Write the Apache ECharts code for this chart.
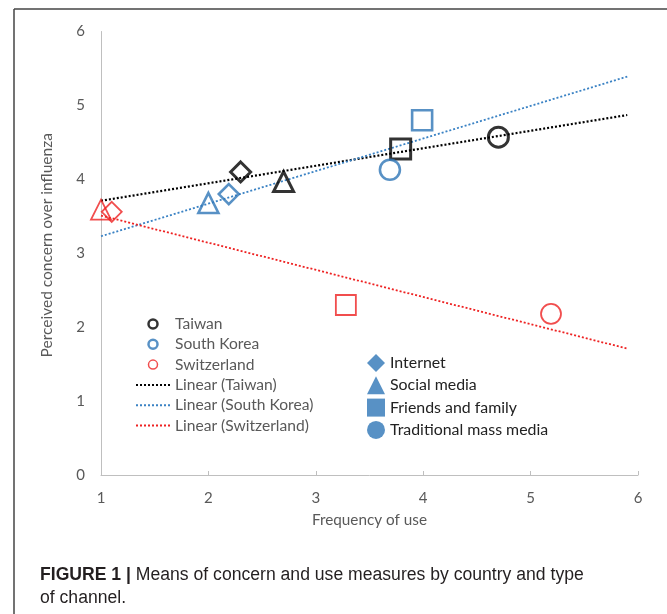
<!DOCTYPE html>
<html>
<head>
<meta charset="utf-8">
<script src="https://cdn.jsdelivr.net/npm/echarts@6/dist/echarts.min.js"></script>
<style>
html,body{margin:0;padding:0;background:#fff;}
#chart{width:667px;height:614px;}
</style>
</head>
<body>
<div id="chart"></div>
<script>
// ---- data ----
const channels = ['Internet', 'Social media', 'Friends and family', 'Traditional mass media'];
const countries = ['Taiwan', 'South Korea', 'Switzerland'];
const trendNames = ['Linear (Taiwan)', 'Linear (South Korea)', 'Linear (Switzerland)'];

// Frequency of use (x) and perceived concern (y), in channel order
const taiwanUse = [2.30, 2.70, 3.79, 4.70];
const taiwanConcern = [4.10, 3.97, 4.41, 4.57];
const koreaUse = [2.19, 2.00, 3.99, 3.69];
const koreaConcern = [3.80, 3.68, 4.80, 4.13];
const swissUse = [1.10, 1.00, 3.28, 5.19];
const swissConcern = [3.56, 3.59, 2.30, 2.18];

// trendline endpoints
const trendX = [1, 5.9];
const trendTaiwan = [3.71, 4.87];
const trendKorea = [3.23, 5.39];
const trendSwiss = [3.51, 1.71];

const xTicks = [1, 2, 3, 4, 5, 6];
const yTicks = [0, 1, 2, 3, 4, 5, 6];

// ---- styles ----
const channelSymbols = ['diamond', 'triangle', 'rect', 'circle'];
const colors = {black: '#000000', blue: '#2e75b6', red: '#ee2222'};
const FONT = 'Lato';

const chart = echarts.init(document.getElementById('chart'), null, {renderer: 'canvas'});

function pts(xs, ys) {
  return xs.map((x, i) => ({value: [x, ys[i]], symbol: channelSymbols[i]}));
}
function line(xs, ys) {
  return xs.map((x, i) => [x, ys[i]]);
}

const scatterBase = (name, data, color, bw) => ({
  name, type: 'scatter', data, symbolSize: 20, z: 3,
  itemStyle: {color: 'rgba(0,0,0,0)', borderColor: color, borderWidth: bw}
});
const trendBase = (name, data, color, w) => ({
  name, type: 'line', data, symbol: 'none', showSymbol: false, z: 2,
  lineStyle: {color, width: w, type: [2, 2]},
  itemStyle: {color}
});
const noDot = {color: 'rgba(0,0,0,0)', borderColor: 'rgba(0,0,0,0)', borderWidth: 0, opacity: 0};

const option = {
  animation: false,
  backgroundColor: '#fff',
  grid: {left: 101, top: 31.5, right: 29, bottom: 139, containLabel: false, outerBoundsMode: 'none'},
  xAxis: {
    type: 'value', min: xTicks[0], max: xTicks[xTicks.length - 1], interval: 1,
    name: 'Frequency of use', nameLocation: 'middle', nameGap: 38,
    nameTextStyle: {color: '#595959', fontSize: 15.3, fontFamily: FONT},
    axisLine: {show: true, onZero: false, lineStyle: {color: '#bfbfbf', width: 1}},
    axisTick: {show: true, inside: true, length: 4, lineStyle: {color: '#bfbfbf'}},
    axisLabel: {color: '#595959', fontSize: 15, fontFamily: FONT, margin: 16},
    splitLine: {show: false}
  },
  yAxis: {
    type: 'value', min: yTicks[0], max: yTicks[yTicks.length - 1], interval: 1,
    name: 'Perceived concern over influenza', nameLocation: 'middle', nameGap: 46, nameRotate: 90,
    nameTextStyle: {color: '#595959', fontSize: 15.5, fontFamily: FONT, padding: [0, 0, 0, 16]},
    axisLine: {show: true, onZero: false, lineStyle: {color: '#bfbfbf', width: 1}},
    axisTick: {show: false},
    axisLabel: {color: '#595959', fontSize: 15, fontFamily: FONT, margin: 16},
    splitLine: {show: false}
  },
  legend: [
    {
      orient: 'vertical', left: 135, top: 316, padding: 0, itemGap: 4.3,
      itemWidth: 34, itemHeight: 9, selectedMode: false,
      textStyle: {color: '#595959', fontSize: 15.6, fontFamily: FONT},
      data: [
        {name: countries[0], icon: 'circle', itemStyle: {borderWidth: 2.5}},
        {name: countries[1], icon: 'circle', itemStyle: {borderWidth: 2.5}},
        {name: countries[2], icon: 'circle', itemStyle: {borderWidth: 1.5}},
        {name: trendNames[0], itemStyle: noDot},
        {name: trendNames[1], itemStyle: noDot},
        {name: trendNames[2], itemStyle: noDot}
      ]
    },
    {
      orient: 'vertical', left: 367, top: 354, padding: 0, itemGap: 4.3,
      itemWidth: 18, itemHeight: 18, selectedMode: false,
      textStyle: {color: '#222222', fontSize: 15.9, fontFamily: FONT},
      data: channels.map((c, i) => ({name: c, icon: channelSymbols[i]}))
    }
  ],
  series: [
    trendBase(trendNames[0], line(trendX, trendTaiwan), colors.black, 2.2),
    trendBase(trendNames[1], line(trendX, trendKorea), '#3a82c4', 1.8),
    trendBase(trendNames[2], line(trendX, trendSwiss), colors.red, 1.8),
    scatterBase(countries[0], pts(taiwanUse, taiwanConcern), colors.black, 3),
    scatterBase(countries[1], pts(koreaUse, koreaConcern), colors.blue, 2.6),
    scatterBase(countries[2], pts(swissUse, swissConcern), colors.red, 1.8),
    ...channels.map(c => ({name: c, type: 'scatter', data: [], itemStyle: {color: colors.blue}}))
  ],
  graphic: [
    {type: 'line', shape: {x1: 14, y1: 9, x2: 14, y2: 614}, style: {stroke: '#444', lineWidth: 1.5}, silent: true},
    {type: 'line', shape: {x1: 14, y1: 9, x2: 667, y2: 9}, style: {stroke: '#444', lineWidth: 1.5}, silent: true},
    {
      type: 'text', left: 40, top: 564, silent: true,
      style: {
        text: '{b|FIGURE 1 |} Means of concern and use measures by country and type\nof channel.',
        fontFamily: 'Liberation Sans', fontSize: 17.6, lineHeight: 23, fill: '#231f20',
        rich: {b: {fontWeight: 'bold', fontFamily: 'Liberation Sans', fontSize: 17.6, lineHeight: 23, fill: '#231f20'}}
      }
    }
  ]
};
chart.setOption(option);
</script>
</body>
</html>
